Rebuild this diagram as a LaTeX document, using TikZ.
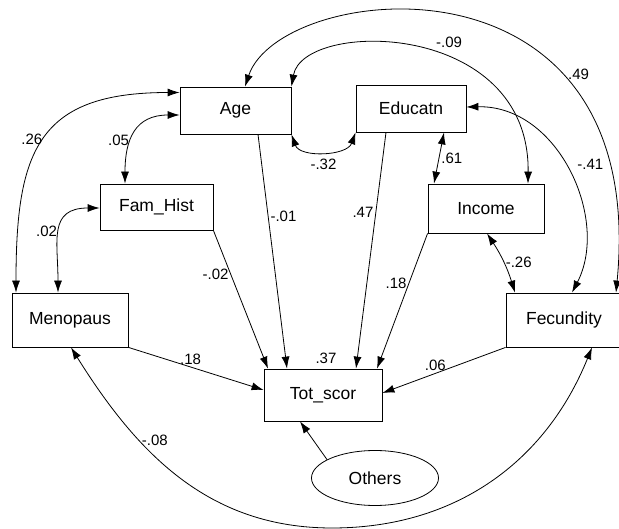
\documentclass[tikz,border=0pt]{standalone}
\usepackage{fontspec}
\setmainfont{Liberation Sans}
\usetikzlibrary{arrows.meta,shapes.geometric}

\begin{document}
\begin{tikzpicture}[x=1pt,y=-1pt,>={Latex[length=12pt,width=8pt]},line width=0.8pt,
  var/.style={draw, inner sep=0pt, font=\fontsize{17.5}{20}\selectfont},
  lbl/.style={inner sep=2pt, font=\fontsize{15}{17}\selectfont}]
\useasboundingbox (0,0) rectangle (619,529);
\node[var, minimum width=111pt, minimum height=47pt] (age) at (235.5,110.5) {Age};
\node[var, minimum width=110pt, minimum height=47pt] (educ) at (411,108.5) {Educatn};
\node[var, minimum width=113pt, minimum height=46pt] (famhist) at (156.5,207) {Fam\_Hist};
\node[var, minimum width=116pt, minimum height=49pt] (income) at (486,208.5) {Income};
\node[var, minimum width=116pt, minimum height=54pt] (menop) at (70,320) {Menopaus};
\node[var, minimum width=116pt, minimum height=54pt] (fecund) at (564,320) {Fecundity};
\node[var, minimum width=118pt, minimum height=52pt] (totscor) at (323,395) {Tot\_scor};
\node[var, ellipse, minimum width=127pt, minimum height=55pt] (others) at (375,478) {Others};
\node[lbl, anchor=south] (r37) at ([xshift=3pt,yshift=3pt]totscor.north) {.37};
\draw[->] ([xshift=22.5pt]age.south) -- node[lbl, anchor=west, pos=.35] (l01) {-.01} ([xshift=-36pt]totscor.north);
\draw[->] ([xshift=-25pt]educ.south) -- node[lbl, anchor=east, pos=.34] (l47) {.47} ([xshift=33pt]totscor.north);
\draw[->] (income.south west) -- node[lbl, anchor=east, pos=.37] (l18b) {.18} ([xshift=54pt]totscor.north);
\draw[->] (famhist.south east) -- node[lbl, anchor=east, pos=.32] (l02b) {-.02} ([xshift=-55pt]totscor.north);
\draw[->] (menop.south east) -- node[lbl, anchor=south, pos=.46] (l18a) {.18} ([yshift=5pt]totscor.west);
\draw[->] (fecund.south west) -- node[lbl, anchor=south, pos=.57] (l06) {.06} ([yshift=2pt]totscor.east);
\draw[->] (others.159) -- ([xshift=-23pt]totscor.south);
\draw[<->] ([xshift=-31.5pt]famhist.north) to[out=90, in=180, looseness=1.3] node[lbl, anchor=east, pos=.4] (l05) {.05} ([yshift=-4.5pt]age.west);
\draw[<->] ([yshift=18pt]age.west) to[out=180, in=90, looseness=1.4] node[lbl, anchor=east, pos=.5] (l26) {.26} ([xshift=-54pt]menop.north);
\draw[<->] ([yshift=-1pt]famhist.west) to[out=180, in=90, looseness=1.4] node[lbl, anchor=east, pos=.5] (l02a) {.02} ([xshift=-12pt]menop.north);
\draw[<->] (age.south east) to[out=-70, in=-110] node[lbl, below=6pt] (l32) {-.32} (educ.south west);
\draw[<->] ([xshift=33pt]educ.south) -- node[lbl, anchor=west, pos=.5] (l61) {.61} ([xshift=-52pt]income.north);
\draw[<->] ([xshift=1pt]income.south) to[bend left=8] node[lbl, anchor=west, pos=.5] (l26b) {-.26} ([xshift=-49pt]fecund.north);
\draw[<->] ([yshift=1.5pt]educ.east) .. controls +(92,-2) and +(38,-73) .. ([xshift=8pt]fecund.north) node[lbl, anchor=south west, pos=.5, xshift=7pt] (l41) {-.41};
\draw[<->] ([xshift=9.5pt]age.north) .. controls +(35,-105) and +(34,-353) .. ([xshift=52pt]fecund.north) node[lbl, anchor=south west, pos=.72] (l49) {.49};
\draw[<->] (age.north east) .. controls +(12,-67) and +(2,-164) .. ([xshift=42pt]income.north) node[lbl, anchor=south, pos=.6, yshift=9pt] (l09) {-.09};
\draw[<->] ([xshift=1pt]menop.south) to[out=-58, in=180] node[lbl, anchor=west, pos=.33] (l08) {-.08} (332,528) to[out=0, in=-112] ([xshift=28pt]fecund.south);
\end{tikzpicture}
\end{document}
